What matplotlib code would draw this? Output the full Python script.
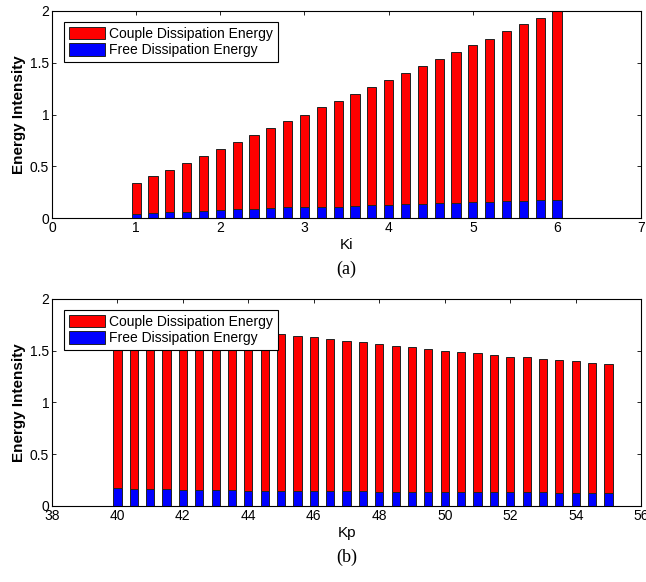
import numpy as np
import matplotlib.pyplot as plt

# panel (a): Ki sweep
ki = [1.0, 1.2, 1.4, 1.6, 1.8, 2.0, 2.2, 2.4, 2.6, 2.8, 3.0, 3.2, 3.4,
      3.6, 3.8, 4.0, 4.2, 4.4, 4.6, 4.8, 5.0, 5.2, 5.4, 5.6, 5.8, 6.0]
ki_free = [0.042, 0.050, 0.060, 0.060, 0.070, 0.077, 0.087, 0.087, 0.093, 0.103,
           0.103, 0.110, 0.110, 0.120, 0.130, 0.130, 0.135, 0.135, 0.145, 0.145,
           0.155, 0.155, 0.160, 0.160, 0.170, 0.170]
ki_couple = [0.296, 0.359, 0.404, 0.471, 0.532, 0.586, 0.647, 0.712, 0.777, 0.831,
             0.897, 0.959, 1.020, 1.075, 1.132, 1.200, 1.263, 1.330, 1.388, 1.456,
             1.513, 1.578, 1.643, 1.711, 1.766, 1.850]

# panel (b): Kp sweep
kp = [40.0, 40.5, 41.0, 41.5, 42.0, 42.5, 43.0, 43.5, 44.0, 44.5, 45.0,
      45.5, 46.0, 46.5, 47.0, 47.5, 48.0, 48.5, 49.0, 49.5, 50.0, 50.5,
      51.0, 51.5, 52.0, 52.5, 53.0, 53.5, 54.0, 54.5, 55.0]
kp_free = [0.178, 0.168, 0.168, 0.168, 0.158, 0.158, 0.158, 0.158, 0.149, 0.149,
           0.149, 0.149, 0.142, 0.142, 0.142, 0.142, 0.136, 0.136, 0.136, 0.136,
           0.136, 0.132, 0.132, 0.132, 0.132, 0.132, 0.132, 0.123, 0.123, 0.123,
           0.123]
kp_couple = [1.682, 1.672, 1.652, 1.632, 1.622, 1.602, 1.582, 1.562, 1.551, 1.531,
             1.512, 1.496, 1.490, 1.470, 1.454, 1.438, 1.428, 1.408, 1.399, 1.383,
             1.366, 1.354, 1.345, 1.325, 1.312, 1.306, 1.286, 1.286, 1.273, 1.263,
             1.247]

plt.rcParams['font.family'] = ['Liberation Sans', 'DejaVu Sans']

fig = plt.figure(figsize=(6.46, 5.82), dpi=100)
ax1 = fig.add_axes([0.0805, 0.6254, 0.912, 0.3557])
ax2 = fig.add_axes([0.0805, 0.1306, 0.912, 0.3557])


def draw_panel(ax, x, free, couple, width, xlim, xticks, xlabel, tag):
    ax.bar(x, free, width=width, color='#0000ff', edgecolor='#222222',
           linewidth=0.7, label='Free Dissipation Energy', zorder=2)
    ax.bar(x, couple, width=width, bottom=free, color='#ff0000',
           edgecolor='#222222', linewidth=0.7,
           label='Couple Dissipation Energy', zorder=2)
    ax.set_xlim(*xlim)
    ax.set_ylim(0, 2)
    ax.set_xticks(xticks)
    ax.set_yticks([0, 0.5, 1, 1.5, 2])
    ax.set_yticklabels(['0', '0.5', '1', '1.5', '2'])
    ax.tick_params(direction='in', top=True, right=True, labelsize=10,
                   length=3, width=0.6, pad=2)
    for s in ax.spines.values():
        s.set_linewidth(0.8)
    ax.set_ylabel('Energy Intensity', fontsize=11, fontweight='bold', labelpad=3)
    ax.set_xlabel(xlabel, fontsize=11, labelpad=2)
    h, l = ax.get_legend_handles_labels()
    leg = ax.legend(h[::-1], l[::-1], loc='upper left',
                    bbox_to_anchor=(0.02, 0.948), fontsize=10, frameon=True,
                    fancybox=False, edgecolor='black', framealpha=1,
                    handlelength=2.6, handleheight=1.0, borderpad=0.35,
                    labelspacing=0.2, handletextpad=0.3, borderaxespad=0)
    leg.get_frame().set_linewidth(0.8)
    leg.set_zorder(5)
    ax.text(0.5, -0.25, tag, transform=ax.transAxes, ha='center', va='center',
            fontsize=13, family='Liberation Serif')


draw_panel(ax1, ki, ki_free, ki_couple, 0.11, (0, 7), range(0, 8), 'Ki', '(a)')
draw_panel(ax2, kp, kp_free, kp_couple, 0.25, (38, 56), range(38, 57, 2), 'Kp', '(b)')

fig.savefig('out.png', dpi=100)
